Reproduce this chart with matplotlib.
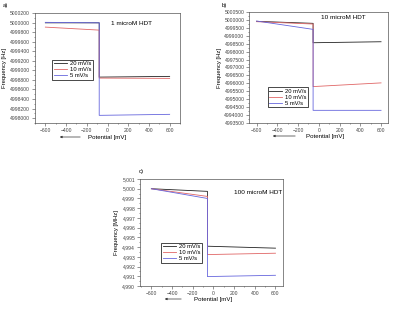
import matplotlib
matplotlib.use('Agg')
import matplotlib.pyplot as plt
from matplotlib.ticker import MultipleLocator, FuncFormatter

plt.rcParams['font.family'] = ['Liberation Sans', 'DejaVu Sans']

# Data (potential in mV)
labels = ['20 mV/s', '10 mV/s', '5 mV/s']
colors = ['#222222', '#e06666', '#6666dd']

# a) 1 microM HDT, frequency in Hz
a_pot = [-600, -80, -80, 600]
a_20 = [5000000, 5000000, 4998860, 4998875]
a_10 = [4999910, 4999847, 4998840, 4998833]
a_5 = [5000010, 5000000, 4998057, 4998078]

# b) 10 microM HDT, frequency in Hz
b_pot = [-600, -55, -55, 600]
b_20 = [4999927, 4999800, 4998570, 4998633]
b_10 = [4999906, 4999757, 4995790, 4996024]
b_5 = [4999948, 4999418, 4994284, 4994284]

# c) 100 microM HDT, frequency in MHz
c_pot = [-600, -58, -58, 600]
c_20 = [5.0000, 4.99973, 4.99409, 4.99389]
c_10 = [5.0000, 4.99921, 4.99323, 4.99337]
c_5 = [5.0000, 4.99900, 4.99097, 4.99110]

W, H = 394, 311
fig = plt.figure(figsize=(W / 100, H / 100), dpi=100)
FS = 3.6


def px_axes(left, top, right, bottom):
    return fig.add_axes([left / W, 1 - bottom / H, (right - left) / W, (bottom - top) / H])


def style(ax, xlim, ylabel, title, tpos, lpos):
    ax.set_xlim(*xlim)
    ax.xaxis.set_major_locator(MultipleLocator(200))
    ax.xaxis.set_minor_locator(MultipleLocator(100))
    ax.tick_params(which='both', direction='out', labelsize=FS, width=0.4,
                   colors='#444444', pad=1.5)
    ax.tick_params(which='major', length=2)
    ax.tick_params(which='minor', length=1)
    for s in ax.spines.values():
        s.set_linewidth(0.5)
        s.set_color('#555555')
    ax.set_ylabel(ylabel, fontsize=FS + 0.6, labelpad=2)
    ax.text(tpos[0], tpos[1], title, transform=ax.transAxes, fontsize=FS + 1,
            ha='center', va='center')
    leg = ax.legend(loc='lower left', bbox_to_anchor=lpos, fontsize=FS + 0.6,
                    handlelength=2.2, borderpad=0.25, labelspacing=0.15,
                    handletextpad=0.5, fancybox=False, framealpha=1)
    leg.get_frame().set_edgecolor('black')
    leg.get_frame().set_linewidth(0.5)


def x_label(ax, y_px, arrow_x0, arrow_x1, text_x):
    fig.text(text_x / W, 1 - y_px / H, 'Potential [mV]', fontsize=FS + 0.8,
             ha='center', va='center')
    fig.add_artist(matplotlib.patches.FancyArrowPatch(
        (arrow_x1 / W, 1 - y_px / H), (arrow_x0 / W, 1 - y_px / H),
        transform=fig.transFigure, arrowstyle='-|>', mutation_scale=3,
        linewidth=0.5, color='#333333'))


# panel a
ax = px_axes(35, 13.3, 180, 123.3)
for vals, lab, col in zip([a_20, a_10, a_5], labels, colors):
    ax.plot(a_pot, vals, color=col, lw=0.6, label=lab)
ax.set_ylim(4997890, 5000200)
ax.yaxis.set_major_locator(MultipleLocator(200))
ax.yaxis.set_minor_locator(MultipleLocator(100))
ax.ticklabel_format(axis='y', useOffset=False, style='plain')
style(ax, (-700, 700), 'Frequency [Hz]', '1 microM HDT', (0.667, 0.905), (0.1, 0.37))
x_label(ax, 137, 57, 83, 107)
fig.text(3 / W, 1 - 5 / H, 'a)', fontsize=FS + 0.6, va='center')

# panel b
ax = px_axes(249.3, 12.3, 388.3, 122.7)
for vals, lab, col in zip([b_20, b_10, b_5], labels, colors):
    ax.plot(b_pot, vals, color=col, lw=0.6, label=lab)
ax.set_ylim(4993500, 5000500)
ax.yaxis.set_major_locator(MultipleLocator(500))
ax.yaxis.set_minor_locator(MultipleLocator(250))
ax.ticklabel_format(axis='y', useOffset=False, style='plain')
style(ax, (-670, 670), 'Frequency [Hz]', '10 microM HDT', (0.676, 0.955), (0.11, 0.115))
x_label(ax, 136, 270, 298, 325)
fig.text(221.7 / W, 1 - 5 / H, 'b)', fontsize=FS + 0.6, va='center')

# panel c
ax = px_axes(140, 179, 282.7, 286)
for vals, lab, col in zip([c_20, c_10, c_5], labels, colors):
    ax.plot(c_pot, vals, color=col, lw=0.6, label=lab)
ax.set_ylim(4.990, 5.001)
ax.yaxis.set_major_locator(MultipleLocator(0.001))
ax.yaxis.set_minor_locator(MultipleLocator(0.0005))
ax.yaxis.set_major_formatter(FuncFormatter(lambda v, p: f"{v:.3f}".replace('.', ',')))
style(ax, (-710, 670), 'Frequency [MHz]', '100 microM HDT', (0.829, 0.876), (0.13, 0.19))
x_label(ax, 299, 162, 184, 213)
fig.text(138.3 / W, 1 - 171.7 / H, 'c)', fontsize=FS + 0.6, va='center')

fig.savefig('out.png', dpi=100)
